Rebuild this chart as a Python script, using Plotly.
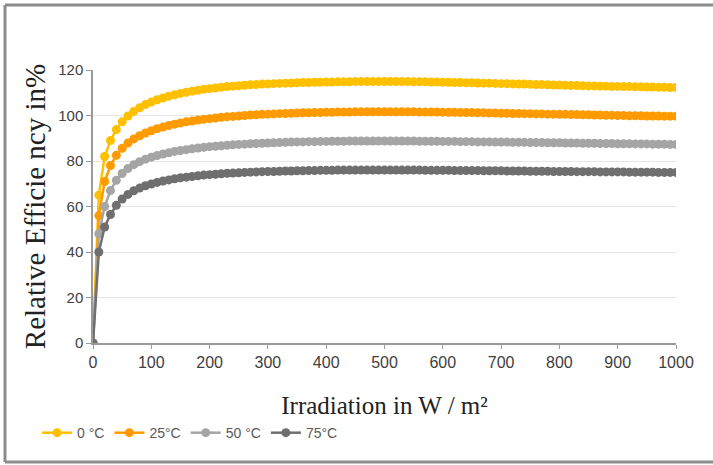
import plotly.graph_objects as go

irradiation = list(range(0, 1001, 10))

eff_0C = [0, 65, 82, 89, 93.8, 97.2, 99.8, 101.8, 103.4, 104.8,
          105.9, 106.9, 107.7, 108.5, 109.1, 109.7, 110.2, 110.7, 111.1, 111.5,
          111.8, 112.1, 112.4, 112.7, 112.9, 113.1, 113.3, 113.5, 113.6, 113.8,
          113.9, 114.0, 114.1, 114.2, 114.3, 114.4, 114.5, 114.5, 114.6, 114.6,
          114.7, 114.7, 114.8, 114.8, 114.8, 114.9, 114.9, 114.9, 114.9, 114.9,
          114.9, 114.9, 114.9, 114.9, 114.9, 114.8, 114.8, 114.8, 114.7, 114.7,
          114.6, 114.6, 114.5, 114.5, 114.4, 114.4, 114.3, 114.2, 114.2, 114.1,
          114.0, 114.0, 113.9, 113.8, 113.8, 113.7, 113.6, 113.6, 113.5, 113.4,
          113.4, 113.3, 113.2, 113.2, 113.1, 113.0, 113.0, 112.9, 112.9, 112.8,
          112.8, 112.7, 112.7, 112.6, 112.6, 112.5, 112.5, 112.4, 112.4, 112.3,
          112.3]

eff_25C = [0, 56, 71, 78, 82.5, 85.6, 87.9, 89.7, 91.1, 92.3,
           93.3, 94.2, 94.9, 95.6, 96.2, 96.7, 97.2, 97.6, 98.0, 98.3,
           98.6, 98.9, 99.2, 99.4, 99.6, 99.8, 100.0, 100.2, 100.3, 100.5,
           100.6, 100.7, 100.8, 100.9, 101.0, 101.1, 101.2, 101.2, 101.3, 101.3,
           101.4, 101.4, 101.5, 101.5, 101.5, 101.6, 101.6, 101.6, 101.6, 101.6,
           101.6, 101.6, 101.6, 101.6, 101.6, 101.6, 101.5, 101.5, 101.5, 101.5,
           101.4, 101.4, 101.4, 101.3, 101.3, 101.3, 101.2, 101.2, 101.1, 101.1,
           101.0, 101.0, 100.9, 100.9, 100.8, 100.8, 100.7, 100.7, 100.6, 100.6,
           100.5, 100.5, 100.4, 100.4, 100.3, 100.3, 100.2, 100.2, 100.1, 100.1,
           100.0, 100.0, 99.9, 99.9, 99.9, 99.8, 99.8, 99.8, 99.7, 99.7,
           99.7]

eff_50C = [0, 48, 60, 67, 71.5, 74.5, 76.7, 78.4, 79.7, 80.8,
           81.7, 82.4, 83.1, 83.6, 84.2, 84.6, 85.0, 85.4, 85.7, 86.0,
           86.3, 86.5, 86.7, 86.9, 87.1, 87.3, 87.4, 87.6, 87.7, 87.8,
           87.9, 88.0, 88.1, 88.2, 88.3, 88.4, 88.4, 88.5, 88.5, 88.6,
           88.6, 88.7, 88.7, 88.7, 88.8, 88.8, 88.8, 88.8, 88.8, 88.8,
           88.8, 88.8, 88.8, 88.8, 88.8, 88.8, 88.7, 88.7, 88.7, 88.7,
           88.6, 88.6, 88.6, 88.5, 88.5, 88.5, 88.4, 88.4, 88.4, 88.3,
           88.3, 88.3, 88.2, 88.2, 88.2, 88.1, 88.1, 88.1, 88.0, 88.0,
           88.0, 87.9, 87.9, 87.9, 87.8, 87.8, 87.8, 87.7, 87.7, 87.7,
           87.6, 87.6, 87.6, 87.5, 87.5, 87.5, 87.4, 87.4, 87.4, 87.3,
           87.3]

eff_75C = [0, 40, 51, 56.5, 60.5, 63.3, 65.3, 66.9, 68.1, 69.1,
           69.9, 70.6, 71.2, 71.7, 72.2, 72.6, 72.9, 73.2, 73.5, 73.8,
           74.0, 74.2, 74.4, 74.6, 74.7, 74.8, 75.0, 75.1, 75.2, 75.3,
           75.4, 75.4, 75.5, 75.6, 75.6, 75.7, 75.7, 75.8, 75.8, 75.9,
           75.9, 75.9, 76.0, 76.0, 76.0, 76.0, 76.0, 76.0, 76.0, 76.0,
           76.0, 76.0, 76.0, 76.0, 76.0, 76.0, 76.0, 75.9, 75.9, 75.9,
           75.9, 75.9, 75.8, 75.8, 75.8, 75.8, 75.8, 75.7, 75.7, 75.7,
           75.7, 75.6, 75.6, 75.6, 75.6, 75.5, 75.5, 75.5, 75.5, 75.4,
           75.4, 75.4, 75.4, 75.3, 75.3, 75.3, 75.3, 75.2, 75.2, 75.2,
           75.2, 75.2, 75.1, 75.1, 75.1, 75.1, 75.1, 75.0, 75.0, 75.0,
           75.0]

series_names = ["0 °C", "25°C", "50 °C", "75°C"]
series_values = [eff_0C, eff_25C, eff_50C, eff_75C]
series_colors = ["#FFC000", "#FF9A00", "#A5A5A5", "#6F6F6F"]

fig = go.Figure()
for name, vals, col in zip(series_names, series_values, series_colors):
    fig.add_trace(go.Scatter(
        x=irradiation, y=vals, name=name, mode="lines+markers",
        line=dict(color=col, width=2.5),
        marker=dict(color=col, size=9),
    ))

fig.update_layout(
    width=713, height=465,
    margin=dict(l=93, r=37, t=70, b=122),
    paper_bgcolor="white", plot_bgcolor="white",
    showlegend=True,
    legend=dict(
        orientation="h", x=-0.096, xanchor="left", y=-0.33, yanchor="middle",
        font=dict(family="Liberation Sans", size=14, color="#595959"),
        itemwidth=30, tracegroupgap=0,
        bgcolor="rgba(0,0,0,0)",
    ),
    xaxis=dict(
        range=[0, 1000], tick0=0, dtick=100,
        showgrid=False, zeroline=False,
        showline=True, linecolor="#9A9A9A", linewidth=1.5,
        ticks="outside", ticklen=4, tickcolor="#9A9A9A",
        tickfont=dict(family="Liberation Sans", size=16, color="#404040"),
        title=dict(text="Irradiation in W / m²",
                   font=dict(family="Liberation Serif", size=25, color="#222222"),
                   standoff=27),
    ),
    yaxis=dict(
        range=[0, 120], tick0=0, dtick=20,
        showgrid=True, gridcolor="#E6E6E6", gridwidth=1, zeroline=False,
        showline=True, linecolor="#9A9A9A", linewidth=1.5,
        ticks="outside", ticklen=5, tickcolor="#9A9A9A",
        tickfont=dict(family="Liberation Sans", size=15, color="#404040"),
        title=dict(text="Relative Efficie ncy in%",
                   font=dict(family="Liberation Serif", size=29, color="#222222"),
                   standoff=4),
    ),
    shapes=[
        dict(type="line", xref="paper", yref="paper",
             x0=(5 - 93) / 583, x1=(713 - 93) / 583, y0=(343 - 5) / 273, y1=(343 - 5) / 273,
             line=dict(color="#8C8C8C", width=3)),
        dict(type="line", xref="paper", yref="paper",
             x0=(5 - 93) / 583, x1=(5 - 93) / 583, y0=(343 - 5) / 273, y1=(343 - 462) / 273,
             line=dict(color="#8C8C8C", width=3)),
        dict(type="line", xref="paper", yref="paper",
             x0=(5 - 93) / 583, x1=(713 - 93) / 583, y0=(343 - 462) / 273, y1=(343 - 462) / 273,
             line=dict(color="#8C8C8C", width=3)),
    ],
)

fig.write_html("out.html")
